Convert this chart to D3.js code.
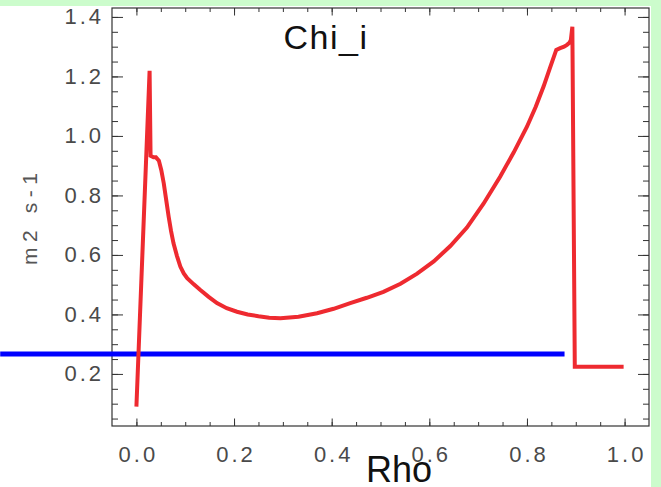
<!DOCTYPE html>
<html>
<head>
<meta charset="utf-8">
<script src="https://cdn.jsdelivr.net/npm/d3@7"></script>
<style>
  html, body { margin: 0; padding: 0; background: #ccfccc; }
  svg { display: block; }
  text { font-family: "Liberation Sans", Arial, sans-serif; }
</style>
</head>
<body>
<svg id="chart" width="661" height="487"></svg>
<script>
// ---- data ----
const title = "Chi_i";
const xLabel = "Rho";
const yLabel = "m2 s-1";

const rho = [0.000, 0.027, 0.029, 0.035, 0.040, 0.046, 0.051, 0.056, 0.061, 0.066,
             0.071, 0.076, 0.083, 0.090, 0.097, 0.104, 0.117, 0.131, 0.148, 0.165,
             0.185, 0.206, 0.228, 0.250, 0.272, 0.295, 0.332, 0.370, 0.404, 0.438,
             0.472, 0.506, 0.541, 0.575, 0.609, 0.643, 0.677, 0.711, 0.745, 0.773,
             0.800, 0.818, 0.834, 0.847, 0.860, 0.868, 0.876, 0.882, 0.887, 0.890,
             0.893, 0.898, 0.998];
const chiI = [0.090, 1.219, 0.933, 0.928, 0.928, 0.917, 0.885, 0.841, 0.785, 0.729,
              0.680, 0.639, 0.597, 0.561, 0.538, 0.522, 0.502, 0.482, 0.459, 0.438,
              0.421, 0.409, 0.400, 0.394, 0.389, 0.387, 0.392, 0.404, 0.419, 0.438,
              0.456, 0.476, 0.503, 0.537, 0.578, 0.630, 0.692, 0.772, 0.863, 0.945,
              1.031, 1.098, 1.166, 1.228, 1.289, 1.295, 1.300, 1.306, 1.313, 1.323,
              1.367, 0.2245, 0.2245];

const refRho = [-0.279, 0.877];
const refVal = [0.267, 0.267];

const xMajor = [0.0, 0.2, 0.4, 0.6, 0.8, 1.0];
const yMajor = [0.2, 0.4, 0.6, 0.8, 1.0, 1.2, 1.4];
const xMinor = d3.range(0, 21).map(i => +(i * 0.05).toFixed(2));
const yMinor = d3.range(1, 29).map(i => +(i * 0.05).toFixed(2));

// ---- layout ----
const svg = d3.select("#chart");
svg.append("rect").attr("x", 0).attr("y", 6).attr("width", 651).attr("height", 481).attr("fill", "#ffffff");

const L = 112, R = 649, T = 8, B = 426;
const x = d3.scaleLinear().domain([-0.05, 1.05]).range([L, R]);
const y = d3.scaleLinear().domain([0.025, 1.43]).range([B, T]);

const axisColor = "#333";
const fmt = d3.format(".1f");

function styleAxis(g) {
  g.select(".domain").remove();
  g.selectAll(".tick line").attr("stroke", axisColor).attr("stroke-width", 1);
  g.selectAll("text").attr("fill", "#4a4a4a").attr("font-size", "22px")
    .attr("letter-spacing", "3px");
}

// frame
svg.append("rect").attr("x", L).attr("y", T).attr("width", R - L).attr("height", B - T)
  .attr("fill", "none").attr("stroke", axisColor).attr("stroke-width", 1.2);

// bottom axis
svg.append("g").attr("transform", `translate(0,${B})`)
  .call(d3.axisBottom(x).tickValues(xMinor).tickSize(-4).tickFormat(""))
  .call(styleAxis);
const gb = svg.append("g").attr("transform", `translate(0,${B})`)
  .call(d3.axisBottom(x).tickValues(xMajor).tickSize(-7.5).tickFormat(fmt).tickPadding(20))
  .call(styleAxis);
gb.selectAll("text").attr("dx", "1.5px");

// top axis
svg.append("g").attr("transform", `translate(0,${T})`)
  .call(d3.axisTop(x).tickValues(xMinor).tickSize(-4).tickFormat(""))
  .call(styleAxis);
svg.append("g").attr("transform", `translate(0,${T})`)
  .call(d3.axisTop(x).tickValues(xMajor).tickSize(-7.5).tickFormat(""))
  .call(styleAxis);

// left axis
svg.append("g").attr("transform", `translate(${L},0)`)
  .call(d3.axisLeft(y).tickValues(yMinor).tickSize(-6).tickFormat(""))
  .call(styleAxis);
svg.append("g").attr("transform", `translate(${L},0)`)
  .call(d3.axisLeft(y).tickValues(yMajor).tickSize(-11).tickFormat(fmt).tickPadding(8))
  .call(styleAxis);

// right axis
svg.append("g").attr("transform", `translate(${R},0)`)
  .call(d3.axisRight(y).tickValues(yMinor).tickSize(-6).tickFormat(""))
  .call(styleAxis);
svg.append("g").attr("transform", `translate(${R},0)`)
  .call(d3.axisRight(y).tickValues(yMajor).tickSize(-11).tickFormat(""))
  .call(styleAxis);

// ---- series ----
const line = d3.line().x(d => x(d[0])).y(d => y(d[1]));

svg.append("path")
  .datum(refRho.map((r, i) => [r, refVal[i]]))
  .attr("d", line)
  .attr("fill", "none").attr("stroke", "#0000ff").attr("stroke-width", 5);

svg.append("path")
  .datum(rho.map((r, i) => [r, chiI[i]]))
  .attr("d", line)
  .attr("fill", "none").attr("stroke", "#ee2a30").attr("stroke-width", 4)
  .attr("stroke-linejoin", "miter").attr("stroke-miterlimit", 10);

// ---- titles ----
svg.append("text").attr("x", 326).attr("y", 49).attr("text-anchor", "middle")
  .attr("font-size", "34px").attr("letter-spacing", "1.5px").attr("fill", "#111")
  .text(title);

svg.append("text").attr("x", 399).attr("y", 482).attr("text-anchor", "middle")
  .attr("font-size", "36px").attr("fill", "#111")
  .text(xLabel);

svg.append("text").attr("transform", "translate(37,219) rotate(-90)")
  .attr("text-anchor", "middle").attr("font-size", "21px").attr("fill", "#555")
  .attr("textLength", 92).attr("lengthAdjust", "spacing")
  .text(yLabel);
</script>
</body>
</html>
